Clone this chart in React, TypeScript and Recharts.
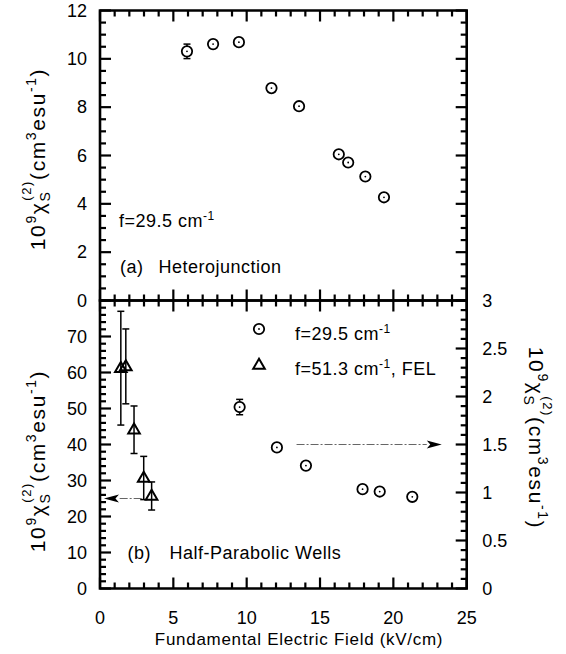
import {
  ErrorBar,
  Legend,
  ReferenceArea,
  ReferenceDot,
  ReferenceLine,
  Scatter,
  ScatterChart,
  XAxis,
  YAxis,
} from 'recharts'

// (a) heterojunction, f = 29.5 cm-1
const HJ_FIELD = [5.93, 7.71, 9.47, 11.69, 13.57, 16.28, 16.92, 18.09, 19.36]
const HJ_CHI = [10.31, 10.61, 10.69, 8.79, 8.04, 6.05, 5.71, 5.13, 4.27]
const HJ_ERR = [0.3, 0, 0, 0, 0, 0, 0, 0, 0]

// (b) half-parabolic wells, f = 29.5 cm-1 (right axis)
const HPW_FIELD = [9.52, 12.06, 14.04, 17.9, 19.07, 21.29]
const HPW_CHI = [1.89, 1.47, 1.28, 1.035, 1.01, 0.955]
const HPW_ERR = [0.08, 0, 0, 0, 0, 0]

// (b) half-parabolic wells, f = 51.3 cm-1 FEL (left axis)
const FEL_FIELD = [1.42, 1.76, 2.32, 2.98, 3.52]
const FEL_CHI = [61.2, 61.7, 44.1, 30.7, 25.7]
const FEL_ERR = [15.8, 10.4, 6.6, 6.0, 3.9]

const X_LABELS = [0, 5, 10, 15, 20, 25]
const HJ_Y_LABELS = [0, 2, 4, 6, 8, 10, 12]
const FEL_Y_LABELS = [0, 10, 20, 30, 40, 50, 60, 70]
const HPW_Y_LABELS = [0, 0.5, 1, 1.5, 2, 2.5, 3]

const range = (lo: number, hi: number, step: number) => {
  const out: number[] = []
  for (let i = 0; lo + i * step <= hi + 1e-9; i++) out.push(Math.round((lo + i * step) * 1000) / 1000)
  return out
}
const X_TICKS = range(0, 25, 1)
const HJ_Y_TICKS = range(0, 12, 0.5)
const FEL_Y_TICKS = range(0, 80, 2)
const HPW_Y_TICKS = range(0, 3, 0.1)

const zip = (xs: number[], ys: number[], es: number[]) => xs.map((x, i) => ({ x, y: ys[i], err: es[i] }))
const hjData = zip(HJ_FIELD, HJ_CHI, HJ_ERR)
const hpwData = zip(HPW_FIELD, HPW_CHI, HPW_ERR)
const felData = zip(FEL_FIELD, FEL_CHI, FEL_ERR)

const FONT = '"Liberation Sans", Arial, Helvetica, sans-serif'
const FS = 18
const MINOR_LEN = 6
const MAJOR_LEN = 11
const isMajor = (v: number, majors: number[]) => majors.some((m) => Math.abs(m - v) < 1e-6)

// tick labels only; the inward tick marks are drawn with reference lines
const labelTick = (side: 'left' | 'right' | 'bottom', labels: number[]) => (props: any) => {
  const { x, y, payload } = props
  const v = payload.value as number
  if (!isMajor(v, labels)) return <g />
  const common = { fontSize: FS, fill: '#000', fontFamily: FONT }
  if (side === 'left') return <text x={x - 13} y={y + 6.3} textAnchor="end" {...common}>{v}</text>
  if (side === 'right') return <text x={x + 15.5} y={y + 6.3} textAnchor="start" {...common}>{v}</text>
  return <text x={x} y={y + 35} textAnchor="middle" {...common}>{v}</text>
}

const seg = (x1: number, y1: number, x2: number, y2: number) => (
  <line x1={x1} y1={y1} x2={x2} y2={y2} stroke="#000" strokeWidth={2.2} />
)

const vTick = (len: number) => (p: any) => {
  const top = Math.min(p.y1, p.y2)
  const bot = Math.max(p.y1, p.y2)
  return (
    <g>
      {seg(p.x1, top, p.x1, top + len)}
      {seg(p.x1, bot, p.x1, bot - len)}
    </g>
  )
}

const hTick = (len: number, ends: 'both' | 'left' | 'right') => (p: any) => {
  const l = Math.min(p.x1, p.x2)
  const r = Math.max(p.x1, p.x2)
  return (
    <g>
      {ends !== 'right' && seg(l, p.y1, l + len, p.y1)}
      {ends !== 'left' && seg(r, p.y1, r - len, p.y1)}
    </g>
  )
}

const xTickLines = (yId: string) =>
  X_TICKS.map((v) => (
    <ReferenceLine
      key={`xt${v}`}
      x={v}
      xAxisId="b"
      yAxisId={yId}
      shape={vTick(isMajor(v, X_LABELS) ? MAJOR_LEN : MINOR_LEN)}
    />
  ))

const yTickLines = (ticks: number[], majors: number[], yId: string, ends: 'both' | 'left' | 'right') =>
  ticks.map((v) => (
    <ReferenceLine
      key={`yt${yId}${v}`}
      y={v}
      xAxisId="b"
      yAxisId={yId}
      shape={hTick(isMajor(v, majors) ? MAJOR_LEN : MINOR_LEN, ends)}
    />
  ))

const CircleMark = (p: any) => (
  <g>
    <circle cx={p.cx} cy={p.cy} r={5.2} fill="#fff" stroke="#000" strokeWidth={1.8} />
    <circle cx={p.cx} cy={p.cy} r={0.9} fill="#000" />
  </g>
)

const TriMark = (p: any) => (
  <path
    d={`M${p.cx},${p.cy - 6.2} L${p.cx + 5.8},${p.cy + 3.8} L${p.cx - 5.8},${p.cy + 3.8} Z`}
    fill="none"
    stroke="#000"
    strokeWidth={2}
  />
)

const Arrow = (p: any) => {
  const { x1, y1, x2, y2 } = p
  const dir = x2 > x1 ? 1 : -1
  const base = x2 - dir * 15
  return (
    <g>
      <line x1={x1} y1={y1} x2={base} y2={y2} stroke="#666" strokeWidth={1} strokeDasharray="8 2 2 2" />
      <path d={`M${x2},${y2} L${base},${y2 - 4} L${base + dir * 3.5},${y2} L${base},${y2 + 4} Z`} fill="#000" />
    </g>
  )
}

function ChiTitle({ x, y, angle }: { x: number; y: number; angle: number }) {
  return (
    <text
      x={x}
      y={y}
      transform={`rotate(${angle} ${x} ${y})`}
      textAnchor="middle"
      fontSize={21}
      fontFamily={FONT}
      fill="#000"
      letterSpacing={1.6}
    >
      <tspan>10</tspan>
      <tspan dy={-9} fontSize={14}>9</tspan>
      <tspan dy={9}>χ</tspan>
      <tspan dy={5} fontSize={14}>S</tspan>
      <tspan dx={-10} dy={-19} fontSize={13}>(2)</tspan>
      <tspan dy={14}>(cm</tspan>
      <tspan dy={-9} fontSize={14}>3</tspan>
      <tspan dy={9}>esu</tspan>
      <tspan dy={-9} fontSize={14}>-1</tspan>
      <tspan dy={9}>)</tspan>
    </text>
  )
}

const annot = (parts: { text: string; dx: number; sup?: string }[]) => (p: any) => (
  <g>
    {parts.map((t, i) => (
      <text key={i} x={p.cx + t.dx} y={p.cy} fontSize={FS} fontFamily={FONT} fill="#000" letterSpacing={0.5}>
        {t.text}
        {t.sup && <tspan dy={-7} fontSize={12}>{t.sup}</tspan>}
      </text>
    ))}
  </g>
)

function LegendBox() {
  const t = { fontSize: FS, fontFamily: FONT, fill: '#000', letterSpacing: 0.5 }
  return (
    <svg width={200} height={62} style={{ overflow: 'visible', display: 'block' }}>
      <CircleMark cx={9} cy={9} />
      <text x={45} y={20} {...t}>
        f=29.5 cm<tspan dy={-7} fontSize={12}>-1</tspan>
      </text>
      <TriMark cx={9} cy={45} />
      <text x={45} y={55} {...t}>
        f=51.3 cm<tspan dy={-7} fontSize={12}>-1</tspan>
        <tspan dy={7}>, FEL</tspan>
      </text>
    </svg>
  )
}

const axisCommon = {
  type: 'number' as const,
  interval: 0 as const,
  tickLine: false,
  tickSize: 0,
  tickMargin: 0,
  axisLine: false,
  allowDataOverflow: true,
}

const FRAME = { fill: 'none', stroke: '#000', strokeWidth: 2.6, fillOpacity: 0 }

export default function App() {
  return (
    <div style={{ position: 'relative', width: 566, height: 654, background: '#fff', fontFamily: FONT }}>
      <style>{'body{margin:0}'}</style>

      {/* (a) Heterojunction */}
      <div style={{ position: 'absolute', left: 0, top: 0 }}>
        <ScatterChart width={566} height={310} margin={{ top: 10.5, right: 99.3, bottom: 0, left: 0 }}>
          <XAxis
            xAxisId="b"
            orientation="bottom"
            dataKey="x"
            domain={[0, 25]}
            ticks={X_TICKS}
            height={9.5}
            tick={false}
            {...axisCommon}
          />
          <YAxis
            yAxisId="l"
            orientation="left"
            dataKey="y"
            width={100}
            domain={[0, 12]}
            ticks={HJ_Y_TICKS}
            tick={labelTick('left', HJ_Y_LABELS)}
            {...axisCommon}
            label={{ content: (p: any) => <ChiTitle x={45} y={(p.viewBox?.y ?? 10.5) + (p.viewBox?.height ?? 290) / 2 + 3.5} angle={-90} /> }}
          />
          <ReferenceArea x1={0} x2={25} y1={0} y2={12} xAxisId="b" yAxisId="l" {...FRAME} />
          {xTickLines('l')}
          {yTickLines(HJ_Y_TICKS, HJ_Y_LABELS, 'l', 'both')}
          <Scatter
            name="f=29.5 cm-1"
            data={hjData}
            xAxisId="b"
            yAxisId="l"
            shape={CircleMark}
            isAnimationActive={false}
          >
            <ErrorBar dataKey="err" direction="y" width={3.5} stroke="#000" strokeWidth={1.5} />
          </Scatter>
          <ReferenceDot x={1.3} y={3.06} xAxisId="b" yAxisId="l" shape={annot([{ text: 'f=29.5 cm', dx: 0, sup: '-1' }])} />
          <ReferenceDot
            x={1.36}
            y={1.14}
            xAxisId="b"
            yAxisId="l"
            shape={annot([
              { text: '(a)', dx: 0 },
              { text: 'Heterojunction', dx: 38.5 },
            ])}
          />
        </ScatterChart>
      </div>

      {/* (b) Half-Parabolic Wells */}
      <div style={{ position: 'absolute', left: 0, top: 290 }}>
        <ScatterChart width={566} height={364} margin={{ top: 10.5, right: 0, bottom: 0, left: 0 }}>
          <XAxis
            xAxisId="b"
            orientation="bottom"
            dataKey="x"
            domain={[0, 25]}
            ticks={X_TICKS}
            height={65.5}
            tick={labelTick('bottom', X_LABELS)}
            {...axisCommon}
          />
          <YAxis
            yAxisId="l"
            orientation="left"
            dataKey="y"
            width={100}
            domain={[0, 80]}
            ticks={FEL_Y_TICKS}
            tick={labelTick('left', FEL_Y_LABELS)}
            {...axisCommon}
            label={{ content: (p: any) => <ChiTitle x={45} y={(p.viewBox?.y ?? 10.5) + (p.viewBox?.height ?? 288) / 2 + 16.5} angle={-90} /> }}
          />
          <YAxis
            yAxisId="r"
            orientation="right"
            dataKey="y"
            width={99.3}
            domain={[0, 3]}
            ticks={HPW_Y_TICKS}
            tick={labelTick('right', HPW_Y_LABELS)}
            {...axisCommon}
            label={{ content: (p: any) => <ChiTitle x={529} y={(p.viewBox?.y ?? 10.5) + (p.viewBox?.height ?? 288) / 2 - 6.5} angle={90} /> }}
          />
          <ReferenceArea x1={0} x2={25} y1={0} y2={80} xAxisId="b" yAxisId="l" {...FRAME} />
          {xTickLines('l')}
          {yTickLines(FEL_Y_TICKS, FEL_Y_LABELS, 'l', 'left')}
          {yTickLines(HPW_Y_TICKS, HPW_Y_LABELS, 'r', 'right')}
          <Scatter
            name="f=29.5 cm-1"
            data={hpwData}
            xAxisId="b"
            yAxisId="r"
            shape={CircleMark}
            isAnimationActive={false}
          >
            <ErrorBar dataKey="err" direction="y" width={3.5} stroke="#000" strokeWidth={1.5} />
          </Scatter>
          <Scatter
            name="f=51.3 cm-1, FEL"
            data={felData}
            xAxisId="b"
            yAxisId="l"
            shape={TriMark}
            isAnimationActive={false}
          >
            <ErrorBar dataKey="err" direction="y" width={3.5} stroke="#000" strokeWidth={1.5} />
          </Scatter>
          <ReferenceLine
            xAxisId="b"
            yAxisId="l"
            segment={[{ x: 2.84, y: 25 }, { x: 0.27, y: 25 }]}
            shape={Arrow}
          />
          <ReferenceLine
            xAxisId="b"
            yAxisId="r"
            segment={[{ x: 13.4, y: 1.5 }, { x: 23.3, y: 1.5 }]}
            shape={Arrow}
          />
          <ReferenceDot
            x={1.88}
            y={8.2}
            xAxisId="b"
            yAxisId="l"
            shape={annot([
              { text: '(b)', dx: 0 },
              { text: 'Half-Parabolic Wells', dx: 42 },
            ])}
          />
          <Legend
            layout="vertical"
            align="center"
            verticalAlign="middle"
            content={() => <LegendBox />}
            wrapperStyle={{ left: 250, top: 30, width: 200, height: 62 }}
          />
        </ScatterChart>
      </div>

      {/* shared x-axis title */}
      <svg width={566} height={654} style={{ position: 'absolute', left: 0, top: 0, pointerEvents: 'none' }}>
        <text x={299} y={645} textAnchor="middle" fontSize={17} fontFamily={FONT} letterSpacing={0.7} fill="#000">
          Fundamental Electric Field (kV/cm)
        </text>
      </svg>
    </div>
  )
}
